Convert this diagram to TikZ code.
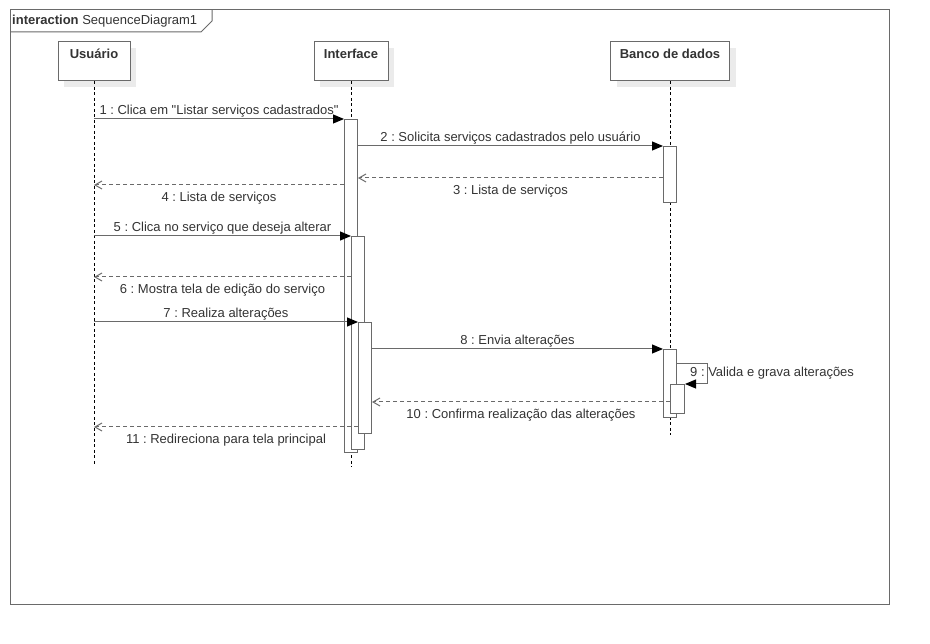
\documentclass[tikz,border=0pt]{standalone}
\usepackage{fontspec}
\setmainfont{Liberation Sans}[Ligatures=TeXOff]
\usepackage{tikz}
\usetikzlibrary{arrows.meta, positioning, shadows}

\definecolor{linegray}{HTML}{6A6A6A}
\definecolor{txtgray}{HTML}{333333}
\frenchspacing

\begin{document}
\begin{tikzpicture}[
    x=1pt, y=-1pt,
    font=\fontsize{13}{15}\selectfont,
    frame/.style={draw=linegray, line width=1pt},
    actor/.style={rectangle, draw=linegray, fill=white, line width=1pt,
                  minimum height=39pt, inner sep=0pt,
                  drop shadow={shadow xshift=6pt, shadow yshift=-6pt,
                               fill=black!8, opacity=1}},
    aname/.style={font=\bfseries\fontsize{13}{15}\selectfont, text=txtgray},
    act/.style={rectangle, draw=linegray, fill=white, line width=1pt,
                minimum width=13pt, inner sep=0pt, anchor=north west},
    life/.style={draw=black, line width=0.8pt, dash pattern=on 3pt off 2.5pt},
    msg/.style={draw=linegray, line width=1pt,
                -{Triangle[length=11pt, width=9pt, color=black]}},
    ret/.style={draw=linegray, line width=1pt, dash pattern=on 4pt off 3pt,
                -{Straight Barb[length=7pt, width=8pt]}},
    lbl/.style={text=txtgray, inner sep=1.5pt},
    lblb/.style={lbl, midway, below=5pt},
]
    \useasboundingbox (0,0) rectangle (930,644);

    % frame and title tab
    \node[anchor=west, inner sep=0pt, text=txtgray] (ttl) at (12,21)
        {\textbf{interaction} SequenceDiagram1};
    \draw[frame] (10,10) rectangle (889,604);
    \draw[frame] (10,32) -- (201,32) -- (212,21) -- (212,10);

    % lifeline heads
    \node[actor, minimum width=72pt] (usr) at (94,61.5) {};
    \node[actor, minimum width=74pt] (ifc) at (351,61.5) {};
    \node[actor, minimum width=119pt] (bd) at (670,61.5) {};
    \node[aname, below=7pt of usr.north, inner sep=0pt] {Usuário};
    \node[aname, below=7pt of ifc.north, inner sep=0pt] {Interface};
    \node[aname, below=7pt of bd.north, inner sep=0pt] {Banco de dados};

    % lifelines
    \coordinate (usrend) at (94,466);
    \coordinate (ifcend) at (351,467);
    \coordinate (bdend) at (670,435);
    \draw[life] (usr.south) -- (usrend);
    \draw[life] (ifc.south) -- (ifcend);
    \draw[life] (bd.south) -- (bdend);

    % activations
    \node[act, minimum height=333pt] (ia1) at (344,119) {};
    \node[act, minimum height=213pt] (ia2) at (351,236) {};
    \node[act, minimum height=111pt] (ia3) at (358,322) {};
    \node[act, minimum height=56pt] (ba1) at (663,146) {};
    \node[act, minimum height=68pt] (ba2) at (663,349) {};
    \node[act, minimum width=14pt, minimum height=29pt] (ba3) at (670,384) {};

    % messages
    \draw[msg] (usr |- ia1.north) -- (ia1.north west)
        node[lbl, midway, above] {1 : Clica em "Listar serviços cadastrados"};
    \draw[msg] (ia1.east |- ba1.north) -- (ba1.north west)
        node[lbl, midway, above] {2 : Solicita serviços cadastrados pelo usuário};
    \draw[ret] (ba1.west |- 0,178) -- (ia1.east |- 0,178)
        node[lblb] {3 : Lista de serviços};
    \draw[ret] (ia1.west |- 0,185) -- (usr |- 0,185)
        node[lblb] {4 : Lista de serviços};
    \draw[msg] (usr |- ia2.north) -- (ia2.north west)
        node[lbl, midway, above] {5 : Clica no serviço que deseja alterar};
    \draw[ret] (ia2.west |- 0,277) -- (usr |- 0,277)
        node[lblb] {6 : Mostra tela de edição do serviço};
    \draw[msg] (usr |- ia3.north) -- (ia3.north west)
        node[lbl, midway, above] {7 : Realiza alterações};
    \draw[msg] (ia3.east |- ba2.north) -- (ba2.north west)
        node[lbl, midway, above] {8 : Envia alterações};
    \draw[msg] (ba2.east |- 0,364) -- ++(30,0) |- (ba3.north east);
    \node[lbl, anchor=west, inner sep=0pt] (m9) at (690,373)
        {9 : Valida e grava alterações};
    \draw[ret] (ba3.west |- 0,402) -- (ia3.east |- 0,402)
        node[lblb] {10 : Confirma realização das alterações};
    \draw[ret] (ia3.west |- 0,427) -- (usr |- 0,427)
        node[lblb] {11 : Redireciona para tela principal};
\end{tikzpicture}
\end{document}
